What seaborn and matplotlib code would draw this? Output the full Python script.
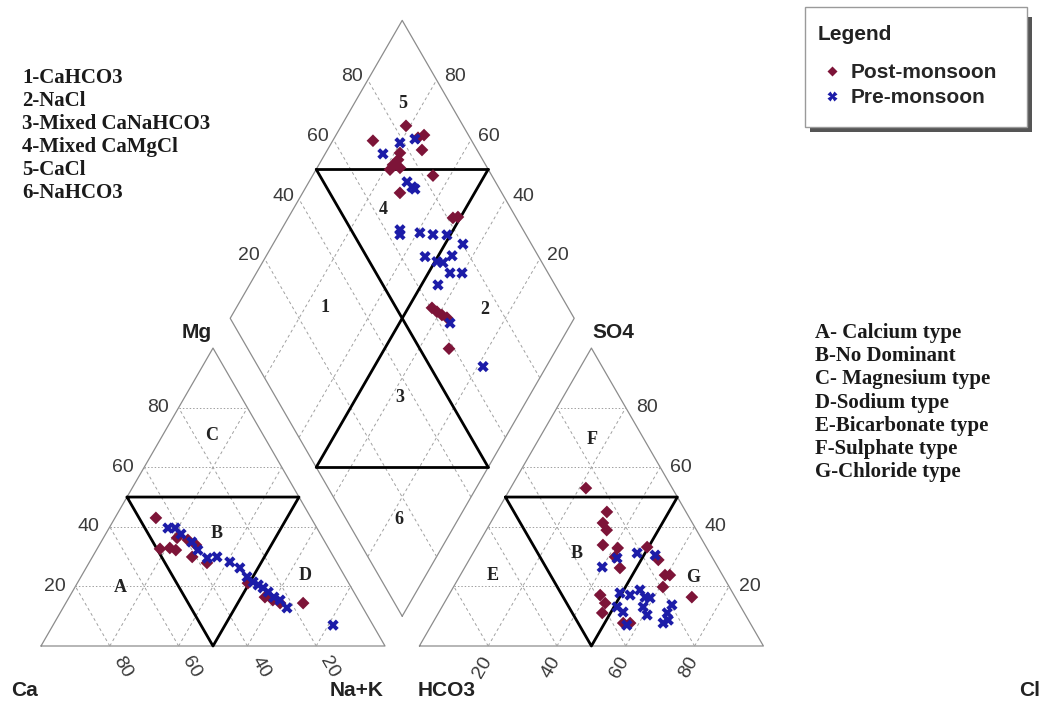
import numpy as np
import pandas as pd
import seaborn as sns
import matplotlib.pyplot as plt
from matplotlib.patches import Rectangle

# ---- data (percent of meq/l) ----
# cation triangle: Ca %, Mg % (Na+K = rest)
post_ca = [45.1, 49.1, 46.1, 44.7, 42.3, 39.5, 41.1, 37.8, 38.0, 29.3, 26.7, 24.9, 23.3, 16.6]
post_mg = [43.0, 32.6, 32.9, 32.2, 36.3, 35.6, 29.9, 27.9, 33.9, 21.1, 16.4, 15.4, 14.4, 14.4]
pre_ca = [43.3, 41.2, 40.5, 38.7, 38.3, 36.9, 33.9, 31.0, 29.1, 28.5, 27.6, 26.6, 25.7, 24.9,
          24.1, 22.8, 22.1, 11.6]
pre_mg = [39.6, 39.6, 37.6, 34.9, 32.2, 29.5, 29.9, 28.2, 26.2, 23.2, 21.5, 20.5, 19.5, 18.1,
          16.4, 15.4, 12.8, 7.0]

# anion triangle: Cl %, SO4 % (HCO3 = rest)
post_cl = [21.9, 32.0, 32.7, 35.0, 36.4, 41.2, 41.9, 45.2, 49.6, 55.0, 60.9, 59.5, 60.9, 71.0,
           44.0, 46.8, 47.6, 55.4, 57.4]
post_so4 = [53.0, 45.0, 41.3, 38.9, 33.9, 32.9, 29.9, 26.2, 33.2, 28.9, 23.8, 23.8, 19.8, 16.4,
            17.1, 14.4, 11.1, 7.7, 7.7]
pre_cl = [39.9, 42.7, 47.7, 53.3, 49.4, 52.7, 54.7, 57.4, 59.0, 58.5, 61.0, 50.9, 53.5, 56.8,
          66.5, 66.5, 67.0, 68.0]
pre_so4 = [26.5, 29.5, 31.2, 30.5, 17.8, 17.1, 18.8, 16.4, 16.1, 13.1, 10.4, 13.1, 11.4, 7.0,
           13.8, 11.1, 7.7, 8.7]

# diamond: Ca+Mg %, SO4+Cl %
post_camg = [88.3, 81.2, 74.4, 75.7, 72.5, 78.4, 77.8, 78.4, 78.5, 75.9, 65.0, 71.7, 52.1, 50.8,
             43.1, 41.0, 39.0, 37.1, 31.3]
post_so4cl = [71.3, 83.4, 87.1, 84.9, 84.0, 77.1, 75.4, 73.1, 71.4, 74.6, 82.9, 70.4, 81.6, 83.2,
              60.4, 61.2, 62.1, 63.1, 58.5]
pre_camg = [83.2, 80.1, 76.4, 71.5, 69.2, 68.0, 65.5, 64.7, 59.2, 55.1, 51.0, 44.8, 53.7, 49.4,
            47.5, 46.0, 43.7, 40.2, 45.2, 35.3, 18.4]
pre_so4cl = [72.0, 78.8, 83.8, 74.3, 74.9, 75.4, 64.2, 63.4, 69.5, 73.0, 77.0, 80.1, 67.0, 69.6,
             71.2, 75.0, 71.5, 75.0, 66.0, 63.1, 65.4]

ticks = [20, 40, 60, 80]
zone_list = ["1-CaHCO3", "2-NaCl", "3-Mixed CaNaHCO3", "4-Mixed CaMgCl", "5-CaCl", "6-NaHCO3"]
type_list = ["A- Calcium type", "B-No Dominant", "C- Magnesium type", "D-Sodium type",
             "E-Bicarbonate type", "F-Sulphate type", "G-Chloride type"]

GAP = 0.1
h = np.sqrt(3) / 2
W, H = 1047, 706
SCALE = 344.0  # pixels per side


def cation_xy(ca, mg):
    ca, mg = np.asarray(ca) / 100, np.asarray(mg) / 100
    na = 1 - ca - mg
    return na + mg / 2, mg * h


def anion_xy(cl, so4):
    cl, so4 = np.asarray(cl) / 100, np.asarray(so4) / 100
    return 1 + GAP + cl + so4 / 2, so4 * h


def diamond_xy(camg, so4cl):
    a, b = np.asarray(camg) / 100, np.asarray(so4cl) / 100
    return 1 + GAP / 2 + 0.5 * (b - a), GAP * h + h * (a + b)


rows = []
for season, parts in [("Post-monsoon", [(cation_xy, post_ca, post_mg), (anion_xy, post_cl, post_so4),
                                        (diamond_xy, post_camg, post_so4cl)]),
                      ("Pre-monsoon", [(cation_xy, pre_ca, pre_mg), (anion_xy, pre_cl, pre_so4),
                                       (diamond_xy, pre_camg, pre_so4cl)])]:
    for fn, u, v in parts:
        xs, ys = fn(u, v)
        for x, y in zip(xs, ys):
            rows.append({"season": season, "x": x, "y": y})
df = pd.DataFrame(rows)

sns.set_style("white")
plt.rcParams["font.family"] = ["Liberation Sans", "DejaVu Sans"]

fig = plt.figure(figsize=(W / 100, H / 100), dpi=100)
ax = fig.add_axes([0, 0, 1, 1])
ax.set_xlim(-41 / SCALE, (W - 41) / SCALE)
ax.set_ylim(-(H - 646) / SCALE, 646 / SCALE)
ax.axis("off")

edge = "#8c8c8c"
grid = "#a0a0a0"

# outlines
for poly in ([(0, 0), (1, 0), (0.5, h), (0, 0)],
             [(1 + GAP, 0), (2 + GAP, 0), (1.5 + GAP, h), (1 + GAP, 0)]):
    p = np.array(poly)
    ax.plot(p[:, 0], p[:, 1], color=edge, lw=0.9)
dia = np.array([diamond_xy(0, 0), diamond_xy(100, 0), diamond_xy(100, 100),
                diamond_xy(0, 100), diamond_xy(0, 0)])
ax.plot(dia[:, 0], dia[:, 1], color=edge, lw=0.9)

# grid lines
for t in ticks:
    v = t / 100
    for off in (0, 1 + GAP):
        ax.plot([off + v / 2, off + 1 - v / 2], [v * h, v * h], color=grid, lw=0.7, ls=(0, (1.5, 2)))
        ax.plot([off + 1 - v, off + (1 - v) / 2], [0, (1 - v) * h], color=grid, lw=0.7, ls=(0, (3, 3)))
        ax.plot([off + v, off + v + (1 - v) / 2], [0, (1 - v) * h], color=grid, lw=0.7, ls=(0, (3, 3)))
    p0, p1 = diamond_xy(t, 0), diamond_xy(t, 100)
    ax.plot([p0[0], p1[0]], [p0[1], p1[1]], color=grid, lw=0.7, ls=(0, (3, 3)))
    p0, p1 = diamond_xy(0, t), diamond_xy(100, t)
    ax.plot([p0[0], p1[0]], [p0[1], p1[1]], color=grid, lw=0.7, ls=(0, (3, 3)))

# facies boundaries
for off in (0, 1 + GAP):
    p = np.array([(off + 0.25, h / 2), (off + 0.75, h / 2), (off + 0.5, 0), (off + 0.25, h / 2)])
    ax.plot(p[:, 0], p[:, 1], color="black", lw=2)
ul, ur = diamond_xy(100, 50), diamond_xy(50, 100)
ll, lr = diamond_xy(50, 0), diamond_xy(0, 50)
for a, b in [(ul, ur), (ll, lr), (ul, lr), (ur, ll)]:
    ax.plot([a[0], b[0]], [a[1], b[1]], color="black", lw=2)

# samples
sns.scatterplot(data=df, x="x", y="y", hue="season", style="season", size="season",
                hue_order=["Post-monsoon", "Pre-monsoon"],
                palette={"Post-monsoon": "#7d1438", "Pre-monsoon": "#1c1ca8"},
                markers={"Post-monsoon": "D", "Pre-monsoon": "X"},
                sizes={"Post-monsoon": 42, "Pre-monsoon": 66},
                edgecolor="none", ax=ax, zorder=5)

# tick labels
tk = dict(fontsize=14, color="#3a3a3a", textcoords="offset pixels")
for t in ticks:
    v = t / 100
    ax.annotate(str(t), (v / 2, v * h), xytext=(-10, 0), ha="right", va="center", **tk)
    ax.annotate(str(t), (2 + GAP - v / 2, v * h), xytext=(10, 0), ha="left", va="center", **tk)
    ax.annotate(str(100 - t), (v, 0), xytext=(13, -21), ha="center", va="center",
                rotation=-60, rotation_mode="anchor", **tk)
    ax.annotate(str(t), (1 + GAP + v, 0), xytext=(-6, -21), ha="center", va="center",
                rotation=60, rotation_mode="anchor", **tk)
    ax.annotate(str(t), diamond_xy(100, t), xytext=(-16, 3), ha="center", va="center", **tk)
    ax.annotate(str(t), diamond_xy(t, 100), xytext=(18, 3), ha="center", va="center", **tk)


def ftext(x, y, s, **kw):
    fig.text(x / W, 1 - y / H, s, **kw)


corner = dict(fontsize=15, fontweight="bold", color="#222222", ha="center", va="center")
ftext(25, 690, "Ca", **corner)
ftext(357, 690, "Na+K", **corner)
ftext(447, 690, "HCO3", **corner)
ftext(1030, 690, "Cl", **corner)
ftext(197, 333, "Mg", **corner)
ftext(613, 333, "SO4", **corner)

zone = dict(fontsize=13, fontweight="bold", family="Liberation Serif", color="#222222",
            ha="center", va="center")
for s, x, y in [("C", 212, 435), ("B", 217, 533), ("A", 120, 587), ("D", 305, 575),
                ("F", 592, 440), ("B", 577, 553), ("E", 493, 575), ("G", 693, 577),
                ("5", 403, 103), ("4", 383, 210), ("1", 325, 307), ("2", 485, 310),
                ("3", 400, 397), ("6", 399, 520)]:
    ftext(x, y, s, **zone)

lst = dict(fontsize=15, fontweight="bold", family="Liberation Serif", color="#1a1a1a",
           ha="left", va="center")
for i, s in enumerate(zone_list):
    ftext(22, 78 + i * 23, s, **lst)
for i, s in enumerate(type_list):
    ftext(815, 333 + i * 23.2, s, **lst)

# legend box (frame + shadow, below the legend entries)
ax.add_patch(Rectangle((810 / W, 1 - 132 / H), 222 / W, 115 / H, transform=fig.transFigure,
                       facecolor="#555555", edgecolor="none", zorder=8, clip_on=False))
ax.add_patch(Rectangle((805 / W, 1 - 127 / H), 222 / W, 120 / H, transform=fig.transFigure,
                       facecolor="white", edgecolor="#9a9a9a", lw=1, zorder=9, clip_on=False))
ftext(818, 34, "Legend", fontsize=15, fontweight="bold", color="#222222", ha="left", va="center",
      zorder=11)
sns.move_legend(ax, "upper left", bbox_to_anchor=(819 / W, 1 - 63 / H),
                bbox_transform=fig.transFigure, frameon=False, title=None,
                prop={"weight": "bold", "size": 15}, handletextpad=0.3, labelspacing=0.3,
                borderpad=0, borderaxespad=0, handlelength=1.2, markerscale=0.85)
ax.get_legend().set_zorder(10)

fig.savefig("out.png", dpi=100)
